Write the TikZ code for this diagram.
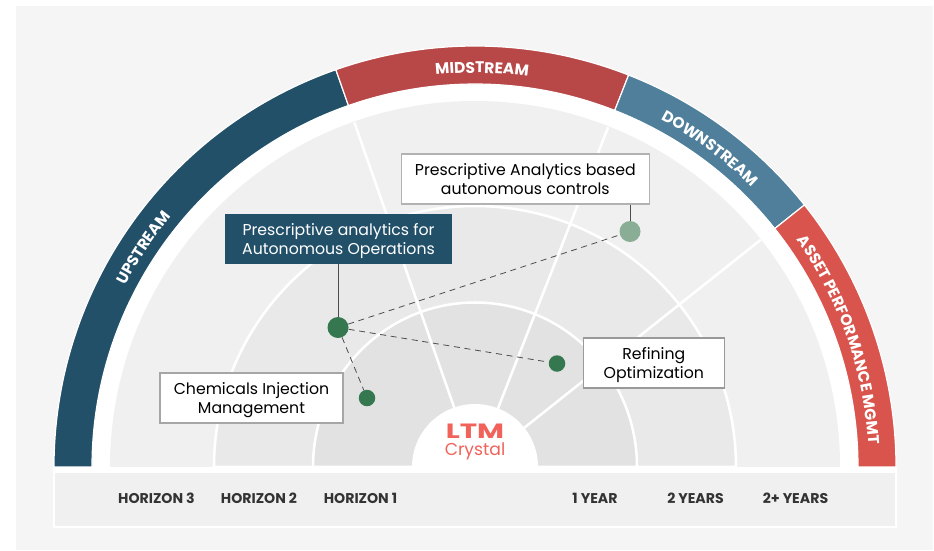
\documentclass[tikz,border=0pt]{standalone}
\usepackage{fontspec}
\usepackage{graphicx}
\setmainfont{Poppins}
\usetikzlibrary{decorations.text}
\definecolor{pageGrey}{HTML}{F5F5F5}
\definecolor{ringOut}{HTML}{F0F0F0}
\definecolor{ringMid}{HTML}{E9E9E9}
\definecolor{ringIn}{HTML}{E2E2E2}
\definecolor{upBlue}{HTML}{225069}
\definecolor{midRed}{HTML}{B84747}
\definecolor{downBlue}{HTML}{4F7F9A}
\definecolor{assetRed}{HTML}{D9544C}
\definecolor{dotGreen}{HTML}{35774F}
\definecolor{dotPale}{HTML}{8AAE95}
\definecolor{logoRed}{HTML}{F0625A}
\tikzset{
  callout/.style={draw=#1,line width=1pt,fill=white,align=center,inner sep=0pt,text depth=0pt,font=\fontsize{11.8}{14.3}\selectfont,text=black},
  darkcall/.style={fill=upBlue,align=center,inner sep=0pt,text depth=0pt,font=\fontsize{11.8}{14.3}\selectfont,text=white},
  axislabel/.style={font=\fontsize{10.6}{12}\selectfont\bfseries,text=black!80,inner sep=0pt},
  bandlabel/.style={decorate,decoration={text along path,text align=center,text={|\fontsize{11.6}{12}\selectfont\bfseries\color{white}|#1}}},
  spoke/.style={white,line width=1.9pt},
  dashlink/.style={black!70,line width=0.6pt,dash pattern={on 4.5pt off 3.5pt}},
  stem/.style={black!70,line width=0.75pt}
}
\newcommand{\bandsector}[3]{\draw[white,line width=0.9pt,fill=#1] (475,467) ++(#2:421) arc[start angle=#2,end angle=#3,radius=421] -- ++(#3:-38) arc[start angle=#3,end angle=#2,radius=383] -- cycle;}
\begin{document}
\begin{tikzpicture}[x=0.75pt,y=0.75pt,yscale=-1,xscale=1]
\useasboundingbox (0,0) rectangle (934,550);
\fill[pageGrey] (16,6) rectangle (933,550);

%half discs
\fill[white] (54,467) arc[start angle=-180,end angle=0,radius=421] -- cycle;
\bandsector{upBlue}{-180}{-109.3}
\bandsector{midRed}{-109.3}{-68.6}
\bandsector{downBlue}{-68.6}{-38.5}
\bandsector{assetRed}{-38.5}{0}
\fill[ringOut] (110,467) arc[start angle=-180,end angle=0,x radius=365,y radius=366] -- cycle;
\draw[spoke,fill=ringMid] (214,467) arc[start angle=-180,end angle=0,radius=261] -- cycle;
\draw[spoke,fill=ringIn] (313,467) arc[start angle=-180,end angle=0,x radius=162,y radius=164.5] -- cycle;

%spokes
\draw[spoke] (475,467) -- ++(-109.3:365);
\draw[spoke] (475,467) -- ++(-68.6:365);
\draw[spoke] (475,467) -- ++(-38.5:365);
\fill[white] (412,467) arc[start angle=-180,end angle=0,radius=63] -- cycle;

%bottom bar
\draw[white,line width=2pt,fill=ringOut] (54,472) rectangle (896,527);
\fill[white] (53,466.5) rectangle (897,472);

%band labels
\path[bandlabel=UPSTREAM] (475,467) ++(-178:394) arc[start angle=-178,end angle=-115,radius=394];
\path[bandlabel=MIDSTREAM] (475,467) ++(-109:394) arc[start angle=-109,end angle=-69,radius=394];
\path[bandlabel=DOWNSTREAM] (475,467) ++(-68.6:394) arc[start angle=-68.6,end angle=-38.6,radius=394];
\path[bandlabel=ASSET PERFORMANCE MGMT] (475,467) ++(-38.5:394) arc[start angle=-38.5,end angle=0,radius=394];

% Text Node
\node[callout=black!30,minimum width=248pt*0.75,minimum height=50pt*0.75] (controls) at (525.3,179) {Prescriptive Analytics based\\autonomous controls};
\node[darkcall,minimum width=227pt*0.75,minimum height=50pt*0.75] (operations) at (338.5,239) {Prescriptive analytics for\\Autonomous Operations};
\node[callout=black!35,minimum width=183pt*0.75,minimum height=50pt*0.75] (chemicals) at (251.5,398) {Chemicals Injection\\Management};
\node[callout=black!40,minimum width=141pt*0.75,minimum height=50pt*0.75] (refining) at (653.8,363) {Refining\\Optimization};

% Dots
\node[circle,fill=dotGreen,minimum size=21pt*0.75,inner sep=0pt] (hubdot) at (338,327.5) {};
\node[circle,fill=dotPale,minimum size=21pt*0.75,inner sep=0pt] (controlsdot) at (630,231.5) {};
\node[circle,fill=dotGreen,minimum size=16.5pt*0.75,inner sep=0pt] (chemicalsdot) at (367,398) {};
\node[circle,fill=dotGreen,minimum size=16.5pt*0.75,inner sep=0pt] (refiningdot) at (557,363.5) {};

%links
\draw[stem] (operations.south -| hubdot) -- (hubdot);
\draw[stem] (controls.south -| controlsdot) -- (controlsdot);
\draw[dashlink] (hubdot) -- (controlsdot);
\draw[dashlink] (hubdot) -- (refiningdot);
\draw[dashlink] (hubdot) -- (chemicalsdot);

% Logo
\node[font=\fontsize{15.5}{18}\selectfont\bfseries,text=logoRed,inner sep=0pt] (logoname) at (475,431) {\scalebox{1.42}[1]{LTM}};
\node[font=\fontsize{12.9}{15}\selectfont,text=logoRed,inner sep=0pt] (logosub) at (475,451.5) {Crystal};

% Axis labels
\node[axislabel] (hthree) at (156.5,498) {HORIZON 3};
\node[axislabel] (htwo) at (259,498) {HORIZON 2};
\node[axislabel] (hone) at (360.5,498) {HORIZON 1};
\node[axislabel] (yone) at (595,498) {1 YEAR};
\node[axislabel] (ytwo) at (695.5,498) {2 YEARS};
\node[axislabel] (ymore) at (795.5,498) {2+ YEARS};
\end{tikzpicture}
\end{document}
